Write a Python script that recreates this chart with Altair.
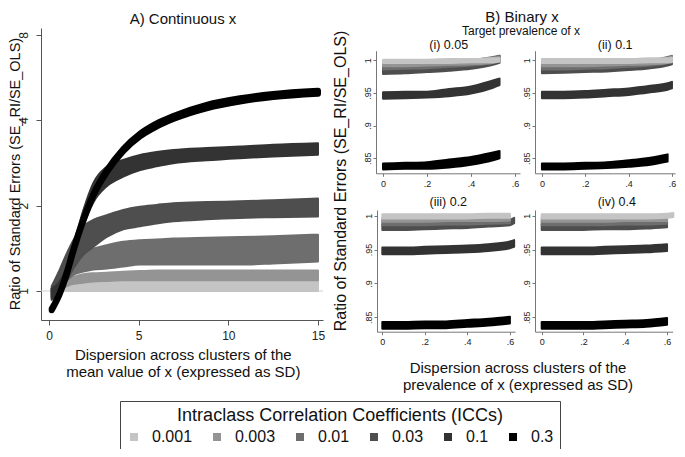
import altair as alt
import pandas as pd

FONT = "Liberation Sans"

# ---------------- categories / colours ----------------
ICC_LABELS = ["0.001", "0.003", "0.01", "0.03", "0.1", "0.3"]
GRAYS = ["#c4c4c4", "#949494", "#6e6e6e", "#4e4e4e", "#333333", "#000000"]
GRAY_OF = dict(zip(ICC_LABELS, GRAYS))

# ---------------- Panel A: continuous x (band lower / upper edges) ----------------
A_X = [0.15, 0.6, 1.0, 1.36, 1.91, 2.47, 3.22, 4.14, 5.08, 6.0, 6.93, 8.79, 10.65, 12.5, 15.0]
A_LO = {
    "0.001": [.99, .997, 1.0, 1.0, 1.0, 1.0, 1.0, 1.0, 1.0, 1.0, 1.0, 1.0, 1.0, 1.0, 1.0],
    "0.003": [.98, 1.01, 1.04, 1.06, 1.07, 1.08, 1.085, 1.09, 1.09, 1.09, 1.09, 1.09, 1.09, 1.09, 1.09],
    "0.01": [.955, 1.02, 1.09, 1.14, 1.17, 1.19, 1.2, 1.22, 1.24, 1.24, 1.24, 1.24, 1.24, 1.25, 1.27],
    "0.03": [.93, .98, 1.09, 1.2, 1.34, 1.43, 1.55, 1.65, 1.69, 1.73, 1.76, 1.79, 1.81, 1.82, 1.83],
    "0.1": [.94, .98, 1.1, 1.3, 1.68, 2.05, 2.34, 2.53, 2.67, 2.75, 2.82, 2.89, 2.94, 2.98, 3.02],
    "0.3": [.855, .975, 1.15, 1.385, 1.77, 2.165, 2.62, 3.11, 3.51, 3.8, 4.04, 4.41, 4.66, 4.83, 4.96],
}
A_HI = {
    "0.001": [1.01, 1.03, 1.05, 1.06, 1.07, 1.075, 1.085, 1.09, 1.09, 1.09, 1.09, 1.09, 1.09, 1.09, 1.09],
    "0.003": [1.02, 1.065, 1.1, 1.12, 1.145, 1.155, 1.16, 1.17, 1.175, 1.18, 1.18, 1.18, 1.18, 1.18, 1.18],
    "0.01": [1.02, 1.11, 1.2, 1.27, 1.36, 1.41, 1.45, 1.49, 1.51, 1.52, 1.53, 1.54, 1.55, 1.56, 1.58],
    "0.03": [1.04, 1.19, 1.36, 1.51, 1.69, 1.78, 1.85, 1.93, 1.98, 2.01, 2.04, 2.06, 2.07, 2.09, 2.12],
    "0.1": [1.02, 1.08, 1.22, 1.45, 1.92, 2.4, 2.74, 2.9, 3.02, 3.09, 3.14, 3.19, 3.23, 3.28, 3.32],
    "0.3": [.865, .985, 1.17, 1.405, 1.79, 2.195, 2.66, 3.17, 3.59, 3.9, 4.14, 4.53, 4.78, 4.95, 5.08],
}
A_XTICKS = [0, 5, 10, 15]
A_YTICKS = [1, 2, 4, 8]

# ---------------- Panel B: binary x, four target prevalences ----------------
B_TITLES = ["(i) 0.05", "(ii) 0.1", "(iii) 0.2", "(iv) 0.4"]
B_XTICKS = [0, 0.2, 0.4, 0.6]
B_YTICKS = [0.85, 0.9, 0.95, 1.0]

B1_X = [0, 0.1, 0.2, 0.3, 0.4, 0.5, 0.53]
B1_LO = {
    "0.3": [.833, .834, .834, .836, .840, .847, .850],
    "0.1": [.941, .942, .943, .945, .949, .958, .962],
    "0.03": [.979, .980, .982, .984, .987, .993, .996],
    "0.01": [.986, .987, .988, .990, .992, .996, .998],
    "0.003": [.991, .991, .992, .993, .994, .996, .998],
    "0.001": [.996, .996, .996, .996, .997, .997, .998],
}
B1_HI = {
    "0.3": [.842, .843, .844, .848, .852, .859, .861],
    "0.1": [.951, .952, .952, .956, .960, .969, .972],
    "0.03": [.987, .988, .990, .992, .996, 1.004, 1.007],
    "0.01": [.993, .994, .995, .997, 1.0, 1.005, 1.007],
    "0.003": [.997, .997, .998, .999, 1.001, 1.004, 1.005],
    "0.001": [1.001, 1.001, 1.001, 1.002, 1.002, 1.003, 1.003],
}

B2_X = [0, 0.1, 0.2, 0.3, 0.4, 0.5, 0.58, 0.6]
B2_LO = {
    "0.3": [.833, .833, .834, .835, .837, .840, .845, None],
    "0.1": [.942, .942, .943, .945, .947, .951, .955, .957],
    "0.03": [.980, .981, .982, .983, .985, .988, .992, .994],
    "0.01": [.986, .986, .987, .988, .990, .992, .996, .998],
    "0.003": [.991, .991, .991, .992, .993, .994, .996, .998],
    "0.001": [.996, .996, .996, .996, .996, .997, .997, .997],
}
B2_HI = {
    "0.3": [.842, .842, .843, .844, .847, .851, .856, None],
    "0.1": [.952, .952, .953, .955, .957, .961, .965, .967],
    "0.03": [.988, .989, .989, .990, .993, .997, 1.001, 1.003],
    "0.01": [.993, .993, .994, .995, .997, 1.0, 1.005, 1.007],
    "0.003": [.997, .997, .997, .998, .999, 1.001, 1.004, 1.006],
    "0.001": [1.002, 1.002, 1.002, 1.002, 1.002, 1.003, 1.003, 1.004],
}

B3_X = [0, 0.1, 0.2, 0.3, 0.4, 0.5, 0.6, 0.62]
B3_LO = {
    "0.3": [.833, .833, .834, .834, .836, .838, .841, None],
    "0.1": [.943, .943, .944, .945, .946, .948, .952, .954],
    "0.03": [.979, .979, .980, .981, .982, .984, .986, .989],
    "0.01": [.986, .986, .986, .987, .987, .988, .989, None],
    "0.003": [.991, .991, .991, .992, .992, .992, .993, None],
    "0.001": [.996, .996, .996, .996, .996, .997, .997, None],
}
B3_HI = {
    "0.3": [.843, .843, .844, .844, .846, .848, .851, None],
    "0.1": [.953, .953, .954, .955, .956, .958, .962, .964],
    "0.03": [.987, .987, .988, .988, .989, .991, .994, .997],
    "0.01": [.992, .992, .993, .993, .994, .995, .996, None],
    "0.003": [.997, .997, .997, .998, .998, .998, .999, None],
    "0.001": [1.002, 1.002, 1.002, 1.002, 1.002, 1.003, 1.003, None],
}

B4_X = [0, 0.1, 0.2, 0.3, 0.4, 0.5, 0.6, 0.63]
B4_LO = {
    "0.3": [.833, .833, .833, .834, .835, .836, .839, None],
    "0.1": [.943, .943, .943, .944, .945, .946, .948, None],
    "0.03": [.979, .979, .979, .980, .980, .981, .983, None],
    "0.01": [.986, .986, .986, .986, .987, .987, .988, None],
    "0.003": [.991, .991, .991, .991, .992, .992, .992, None],
    "0.001": [.996, .996, .996, .996, .996, .996, .997, .998],
}
B4_HI = {
    "0.3": [.843, .843, .843, .844, .845, .846, .849, None],
    "0.1": [.953, .953, .953, .954, .955, .956, .958, None],
    "0.03": [.987, .987, .987, .988, .988, .989, .991, None],
    "0.01": [.992, .992, .992, .993, .993, .993, .994, None],
    "0.003": [.997, .997, .997, .997, .998, .998, .998, None],
    "0.001": [1.002, 1.002, 1.002, 1.002, 1.002, 1.002, 1.003, 1.004],
}

# ---------------- layout (pixels inside the 669x441 view) ----------------
W, H = 669, 441

COLOR_SCALE = alt.Scale(domain=ICC_LABELS, range=GRAYS)
LEGEND = alt.Legend(
    orient="none", legendX=112, legendY=393, direction="horizontal",
    title="Intraclass Correlation Coefficients (ICCs)", titleOrient="top",
    titleAnchor="middle", titleFontSize=18, titleFontWeight="normal", titleFont=FONT,
    titleColor="#111111", titlePadding=4, titleLimit=600, labelFontSize=16,
    labelFont=FONT, labelColor="#111111", labelOffset=10, columnPadding=16,
    gridAlign="each", symbolType="square", symbolSize=64, symbolStrokeWidth=0,
    symbolOpacity=1, padding=6, strokeColor="#444444", fillColor="white",
    labelLimit=200,
)

ONE = pd.DataFrame({"k": [0]})


def band_frame(xs, lo, hi, icc):
    rows = [{"x": x, "lo": a, "hi": b, "icc": icc}
            for x, a, b in zip(xs, lo, hi) if a is not None]
    return pd.DataFrame(rows)


def band(df, icc, xscale, yscale, xaxis, yaxis, sw):
    return alt.Chart(df).mark_area(
        strokeWidth=sw, strokeJoin="round", strokeCap="round", opacity=1,
        interpolate="monotone",
    ).encode(
        x=alt.X("x:Q", scale=xscale, axis=xaxis),
        y=alt.Y("lo:Q", scale=yscale, axis=yaxis, stack=None),
        y2="hi:Q",
        color=alt.Color("icc:N", scale=COLOR_SCALE, legend=LEGEND),
        stroke=alt.value(GRAY_OF[icc]),
    )


# ---- Panel A
A_XDOM = [-0.446, 15.28]
A_YDOM = [0.79, 8.46]
a_xscale = alt.Scale(domain=A_XDOM, range=[33, 315], nice=False, zero=False)
a_yscale = alt.Scale(type="log", domain=A_YDOM, range=[312, 20], nice=False)
a_xaxis = alt.Axis(orient="bottom", offset=312 - H, values=A_XTICKS, tickSize=5,
                   labelPadding=5, labelFontSize=12, title=None, labelFlush=False)
a_yaxis = alt.Axis(orient="left", offset=-33, values=A_YTICKS, tickSize=5,
                   labelPadding=13, labelFontSize=12, labelAngle=270,
                   labelAlign="center", labelBaseline="middle", title=None,
                   format="~g", labelFlush=False)

ref_line = alt.Chart(ONE).mark_rule(color="#cfcfcf", strokeWidth=1).encode(
    x=alt.X(datum=A_XDOM[0], type="quantitative", scale=a_xscale, axis=a_xaxis),
    x2=alt.X2(datum=A_XDOM[1]),
    y=alt.Y(datum=1, type="quantitative", scale=a_yscale, axis=a_yaxis),
)
a_layers = [ref_line]
for icc in ICC_LABELS:
    sw = 6 if icc == "0.3" else 2
    a_layers.append(band(band_frame(A_X, A_LO[icc], A_HI[icc], icc), icc,
                         a_xscale, a_yscale, a_xaxis, a_yaxis, sw))
panelA = alt.layer(*a_layers)

# ---- Panel B
X_LABEL = "datum.value == 0 ? '0' : substring(format(datum.value, '~g'), 1)"
Y_LABEL = "datum.value >= 1 ? '1' : substring(format(datum.value, '~g'), 1)"

B_SPECS = [
    # (xs, lo, hi, x-domain, x-range, y-domain, y-range)
    (B1_X, B1_LO, B1_HI, [-0.032, 0.623], [368, 512], [0.827, 1.0147], [165.3, 42.7]),
    (B2_X, B2_LO, B2_HI, [-0.032, 0.614], [527, 667], [0.827, 1.0147], [165.3, 42.7]),
    (B3_X, B3_LO, B3_HI, [-0.025, 0.624], [369, 507], [0.8288, 1.0084], [323.7, 202]),
    (B4_X, B4_LO, B4_HI, [-0.032, 0.627], [527, 664.7], [0.8288, 1.0084], [323.7, 202]),
]
panelsB = []
for xs, lo, hi, xdom, xr, ydom, yr in B_SPECS:
    xscale = alt.Scale(domain=xdom, range=xr, nice=False, zero=False)
    yscale = alt.Scale(domain=ydom, range=yr, nice=False, zero=False)
    xaxis = alt.Axis(orient="bottom", offset=yr[0] - H, values=B_XTICKS, tickSize=3,
                     labelPadding=3, labelFontSize=9, labelExpr=X_LABEL, title=None,
                     labelFlush=False, domainColor="#777777", tickColor="#777777")
    yaxis = alt.Axis(orient="left", offset=-xr[0], values=B_YTICKS, tickSize=3,
                     labelPadding=6, labelFontSize=9, labelAngle=270,
                     labelAlign="center", labelBaseline="middle", labelExpr=Y_LABEL,
                     title=None, labelFlush=False, domainColor="#777777",
                     tickColor="#777777")
    layers = []
    for icc in reversed(ICC_LABELS):
        layers.append(band(band_frame(xs, lo[icc], hi[icc], icc), icc,
                           xscale, yscale, xaxis, yaxis, 2))
    panelsB.append(alt.layer(*layers))


# ---- Titles
def label(text, x, y, size, angle=0):
    return alt.Chart(ONE).mark_text(
        text=text, font=FONT, fontSize=size, angle=angle, align="center",
        baseline="middle", color="#111111",
    ).encode(x=alt.value(x), y=alt.value(y))


texts = [
    label("A) Continuous x", 175, 11, 15),
    label("Ratio of Standard Errors (SE_RI/SE_OLS)", 7.5, 166, 14.5, 270),
    label("Dispersion across clusters of the", 175.3, 347, 15),
    label("mean value of x (expressed as SD)", 175.3, 364, 15),
    label("B) Binary x", 514, 9, 15),
    label("Target prevalence of x", 513, 23, 12),
    label(B_TITLES[0], 440.7, 36.5, 12.5),
    label(B_TITLES[1], 607.2, 36.5, 12.5),
    label(B_TITLES[2], 440.3, 193.5, 12.5),
    label(B_TITLES[3], 608.8, 193.5, 12.5),
    label("Ratio of Standard Errors (SE_RI/SE_OLS)", 333, 173, 16, 270),
    label("Dispersion across clusters of the", 510, 360, 15),
    label("prevalence of x (expressed as SD)", 510, 377, 15),
]

chart = alt.layer(panelA, *panelsB, *texts).resolve_scale(
    x="independent", y="independent"
).properties(
    width=W, height=H, padding=0, autosize=alt.AutoSizeParams(type="none"),
    background="white",
).configure_view(stroke=None).configure_axis(
    grid=False, labelFont=FONT, labelColor="#222222", domainColor="#555555",
    tickColor="#555555", domainWidth=1, tickWidth=1,
)

chart.save("out.html", embed_options={"renderer": "svg", "actions": False})
